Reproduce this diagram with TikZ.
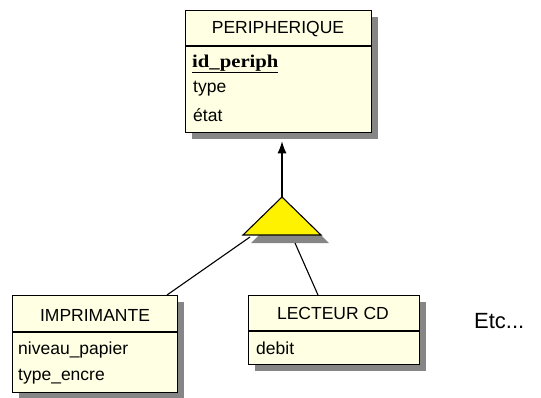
\documentclass[tikz,border=0pt]{standalone}
\usepackage{fontspec}
\setmainfont{Liberation Sans}
\newfontfamily\idfont[FakeStretch=1.15]{Liberation Serif}
\usetikzlibrary{arrows.meta}
\definecolor{cream}{HTML}{FFFFE3}
\definecolor{shadowgray}{HTML}{868686}
\definecolor{gen}{HTML}{FFF200}
\begin{document}
\begin{tikzpicture}[x=1pt,y=-1pt,
  entbox/.style={draw=black, line width=1.3pt, fill=cream, inner sep=0pt, anchor=north west},
  shadowbox/.style={fill=shadowgray},
  txt/.style={font=\fontsize{17.5}{20}\selectfont, inner sep=0pt},
  attr/.style={txt, anchor=west},
  link/.style={draw=black, line width=1.1pt}]
\useasboundingbox (0,0) rectangle (541,397);
\fill[white] (0,0) rectangle (541,397);

% PERIPHERIQUE
\fill[shadowbox] (192,17) rectangle (378,139);
\node[entbox, minimum width=186pt, minimum height=122pt] (per) at (185,10) {};
\draw[line width=1.1pt] (185,46) -- (371,46);
\node[txt] (perT) at (278,29) {PERIPHERIQUE};
\node[anchor=west, inner sep=0pt, font=\idfont\bfseries\fontsize{18}{20}\selectfont] (perA1) at (192,64) {\underline{id\_periph}};
\node[attr] (perA2) at (193,89) {type};
\node[attr] (perA3) at (193,115) {état};

% IMPRIMANTE
\fill[shadowbox] (19,302) rectangle (184,399);
\node[entbox, minimum width=165pt, minimum height=97pt] (imp) at (12,295) {};
\draw[line width=1.1pt] (12,332) -- (177,332);
\node[txt] (impT) at (95,315) {IMPRIMANTE};
\node[attr] (impA1) at (18,350) {niveau\_papier};
\node[attr] (impA2) at (18,377) {type\_encre};

% LECTEUR CD
\fill[shadowbox] (255,302) rectangle (426,371);
\node[entbox, minimum width=171pt, minimum height=69pt] (lec) at (248,295) {};
\draw[line width=1.1pt] (248,331) -- (419,331);
\node[txt] (lecT) at (333,313) {LECTEUR CD};
\node[attr] (lecA1) at (256,348) {debit};

% Etc
\node[anchor=west, inner sep=0pt, font=\fontsize{22}{24}\selectfont] (etc) at (474,321) {Etc...};

% generalisation triangle
\coordinate (tA) at (282,197);
\coordinate (tL) at (243,235);
\coordinate (tR) at (321,235);
\fill[shadowgray] (290,205) -- (251,243) -- (329,243) -- cycle;
\filldraw[fill=gen, draw=black, line width=1.1pt] (tA) -- (tL) -- (tR) -- cycle;

% connectors
\coordinate (cL) at (250,237);
\coordinate (cR) at (295,243);
\coordinate (impIn) at (167,295);
\coordinate (lecIn) at (318,295);
\draw[link, -{Latex[length=12pt,width=9pt]}, shorten >=8pt] (tA) -- (tA |- per.south);
\draw[link] (cL) -- (impIn);
\draw[link] (cR) -- (lecIn);
\end{tikzpicture}
\end{document}
